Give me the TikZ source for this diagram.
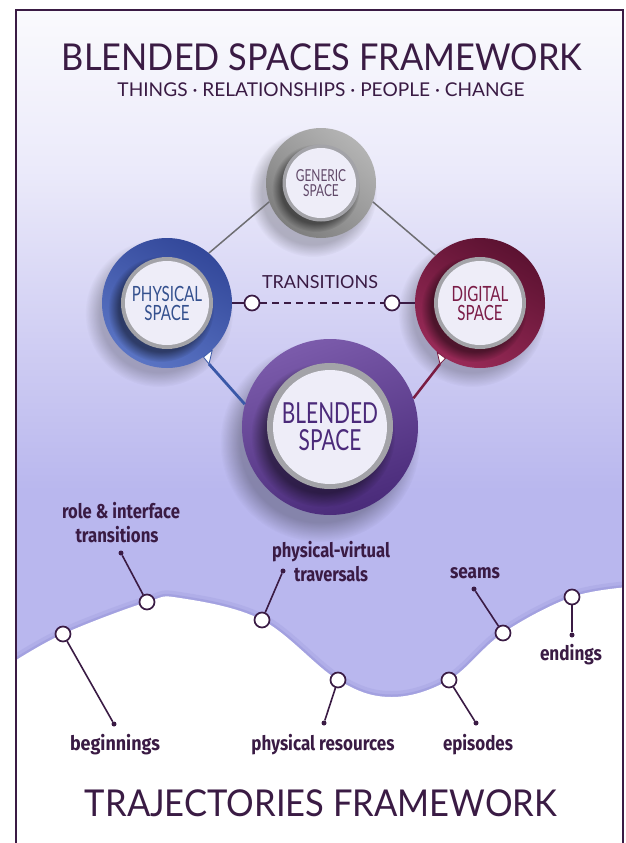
\documentclass[tikz,border=0pt]{standalone}
\usepackage{fontspec}
\usepackage{graphicx}
\setmainfont{Lato}
\newfontfamily\lblfont{Fira Sans}
\usetikzlibrary{fadings,calc}
\definecolor{ink}{HTML}{3A1B44}
\definecolor{lav}{HTML}{B9B7EE}
\definecolor{lavA}{HTML}{FAFAFD}
\definecolor{lavB}{HTML}{EBEAFA}
\definecolor{lavC}{HTML}{D0CEF3}
\definecolor{edgec}{HTML}{8C89D2}
\definecolor{genL}{HTML}{B4B4B4}
\definecolor{genD}{HTML}{7E7E7E}
\definecolor{physL}{HTML}{5A74C4}
\definecolor{physD}{HTML}{33489A}
\definecolor{physT}{HTML}{34508E}
\definecolor{digL}{HTML}{982A57}
\definecolor{digD}{HTML}{5C1231}
\definecolor{digT}{HTML}{7B1D48}
\definecolor{blL}{HTML}{7B5BAB}
\definecolor{blD}{HTML}{4A2B7A}
\definecolor{blT}{HTML}{4B2A7A}
\definecolor{rimc}{HTML}{A3A3A8}
\definecolor{disc}{HTML}{EEEDF8}
\definecolor{grayline}{HTML}{6E6E72}
\definecolor{blueline}{HTML}{3A58A8}
\definecolor{redline}{HTML}{7A1C42}
\newcommand\cond[1]{\scalebox{0.72}[1]{#1}}
\newcommand\fitw[2]{\resizebox{#1pt}{\height}{#2}}
\tikzset{
  softshadow/.style={fill=black, opacity=#1, path fading=circle with fuzzy edge 20 percent},
  ringnode/.style={circle, inner sep=0pt, minimum size=#1},
  discnode/.style={circle, inner sep=0pt, minimum size=#1, fill=disc, align=center},
  tnode/.style={circle, draw=ink, line width=1.7pt, fill=white, minimum size=15pt, inner sep=0pt},
  dotnode/.style={circle, fill=ink, minimum size=5pt, inner sep=0pt},
  lblline/.style={draw=ink, line width=1.6pt},
  lbltext/.style={text=ink, font=\lblfont\bfseries\fontsize{20}{24}\selectfont, inner sep=0pt, anchor=base},
  titletext/.style={text=ink, inner sep=0pt, anchor=center}
}
\begin{document}
\begin{tikzpicture}[x=1pt,y=-1pt]
\useasboundingbox (0,0) rectangle (625,843);
% background
\fill[white] (0,0) rectangle (625,843);
\shade[top color=lavA, bottom color=lavB] (16,10) rectangle (623,170.5);
\shade[top color=lavB, bottom color=lavC] (16,170) rectangle (623,340.5);
\shade[top color=lavC, bottom color=lav] (16,340) rectangle (623,490.5);
\fill[lav] (16,490) rectangle (623,843);
% wave
\begin{scope}
\clip (16,10) rectangle (623,843);
\draw[edgec, line width=12pt, opacity=0.18] plot[smooth, tension=0.6] coordinates {(10,664) (63,634) (147,602) (180,598) (262,620) (338,680) (392,697) (449,680) (503,633) (572,597) (630,587)};
\draw[edgec, line width=5pt, opacity=0.35] plot[smooth, tension=0.6] coordinates {(10,664) (63,634) (147,602) (180,598) (262,620) (338,680) (392,697) (449,680) (503,633) (572,597) (630,587)};
\fill[white] plot[smooth, tension=0.6] coordinates {(10,664) (63,634) (147,602) (180,598) (262,620) (338,680) (392,697) (449,680) (503,633) (572,597) (630,587)} -- (630,850) -- (10,850) -- cycle;
\end{scope}
% frame
\draw[ink, line width=2pt] (16,850) -- (16,10) -- (623,10) -- (623,850);
% titles
\node[titletext, font=\fontsize{37}{40}\selectfont] (title) at (322,57) {\fitw{520}{BLENDED SPACES FRAMEWORK}};
\node[titletext, font=\fontsize{19}{22}\selectfont] (subtitle) at (321,90) {\fitw{407}{THINGS · RELATIONSHIPS · PEOPLE · CHANGE}};
\node[titletext, font=\fontsize{37}{40}\selectfont] (traj) at (321,803) {\fitw{472}{TRAJECTORIES FRAMEWORK}};
% ---------- soft outer shadows
\fill[softshadow=0.22] (313,193) circle (64);
\fill[softshadow=0.22] (159,313) circle (74);
\fill[softshadow=0.22] (472,313) circle (74);
\fill[softshadow=0.28] (320,442) circle (100);
% ---------- generic
\node[ringnode=110pt, top color=genL, bottom color=genD, shading angle=-40] (gen) at (321,183) {};
\fill[softshadow=0.45] (316,188) circle (44);
\fill[rimc] (321,183) circle (38.5);
\node[discnode=70pt, text=ink!80, font=\fontsize{16.5}{15}\selectfont] (genin) at (321,183) {\cond{GENERIC}\\\cond{SPACE}};
% ---------- physical
\node[ringnode=130pt, top color=physL, bottom color=physD, shading angle=150] (phys) at (167,303) {};
\fill[softshadow=0.45] (161,309) circle (53);
\fill[rimc] (167,303) circle (46);
\node[discnode=84pt, text=physT, font=\fontsize{21}{19}\selectfont] (physin) at (167,303) {\cond{PHYSICAL}\\\cond{SPACE}};
% ---------- digital
\node[ringnode=130pt, top color=digL, bottom color=digD, shading angle=150] (dig) at (480,303) {};
\fill[softshadow=0.45] (474,309) circle (53);
\fill[rimc] (480,303) circle (46);
\node[discnode=84pt, text=digT, font=\fontsize{21}{19}\selectfont] (digin) at (480,303) {\cond{DIGITAL}\\\cond{SPACE}};
% ---------- blended
\node[ringnode=176pt, top color=blL, bottom color=blD, shading angle=20] (bl) at (330,427) {};
\fill[softshadow=0.45] (323,435) circle (72);
\fill[rimc] (330,426) circle (63);
\node[discnode=114pt, text=blT, font=\fontsize{29}{27}\selectfont] (blin) at (330,427) {\cond{BLENDED}\\\cond{SPACE}};
% ---------- connectors between spaces
\draw[grayline, line width=1.5pt] (gen.200) -- (phys.50);
\draw[grayline, line width=1.5pt] (gen.-20) -- (dig.133);
\coordinate (phtip) at (209,364);
\coordinate (dgtip) at (440,364);
\draw[blueline, line width=2.8pt] (phtip) -- (bl.165);
\draw[redline, line width=2.5pt] (dgtip) -- (bl.19);
\filldraw[white, draw=blueline, line width=0.8pt, line join=round] (phys.-56) -- (phys.-46) -- (phtip) -- cycle;
\filldraw[white, draw=redline, line width=0.8pt, line join=round] (dig.229) -- (dig.238) -- (dgtip) -- cycle;
% transitions
\node[tnode] (tl) at (252,303) {};
\node[tnode] (tr) at (392,303) {};
\draw[ink, line width=2pt] (phys.east) -- (tl);
\draw[ink, line width=2pt] (tr) -- (dig.west);
\draw[ink, line width=2pt, dash pattern=on 7pt off 5pt] (tl) -- (tr);
\node[titletext, font=\fontsize{18}{20}\selectfont] (trans) at (320,282) {\fitw{116}{TRANSITIONS}};
% ---------- trajectory points
\node[tnode] (c1) at (63,634) {};
\node[tnode] (c2) at (147,602) {};
\node[tnode] (c3) at (262,620) {};
\node[tnode] (c4) at (338,680) {};
\node[tnode] (c5) at (449,680) {};
\node[tnode] (c6) at (503,633) {};
\node[tnode] (c7) at (572,597) {};
\node[dotnode] (d1) at (114,724) {};
\node[dotnode] (d2) at (121,553) {};
\node[dotnode] (d3) at (283,571) {};
\node[dotnode] (d4) at (324,723) {};
\node[dotnode] (d5) at (476,723) {};
\node[dotnode] (d6) at (474,589) {};
\node[dotnode] (d7) at (572,635) {};
\draw[lblline] (c1) -- (d1);
\draw[lblline] (c2) -- (d2);
\draw[lblline] (c3) -- (d3);
\draw[lblline] (c4) -- (d4);
\draw[lblline] (c5) -- (d5);
\draw[lblline] (c6) -- (d6);
\draw[lblline] (c7) -- (d7);
% labels
\node[lbltext] (l2a) at (121,518) {\fitw{118}{role \& interface}};
\node[lbltext] (l2b) at (117,542) {\fitw{83}{transitions}};
\node[lbltext] (l3a) at (331,557) {\fitw{118}{physical-virtual}};
\node[lbltext] (l3b) at (331,581) {\fitw{74}{traversals}};
\node[lbltext] (l6) at (475,578) {\fitw{50}{seams}};
\node[lbltext] (l7) at (571,660) {\fitw{62}{endings}};
\node[lbltext] (l1) at (115,750) {\fitw{90}{beginnings}};
\node[lbltext] (l4) at (323,750) {\fitw{143}{physical resources}};
\node[lbltext] (l5) at (478,750) {\fitw{70}{episodes}};
\end{tikzpicture}
\end{document}
